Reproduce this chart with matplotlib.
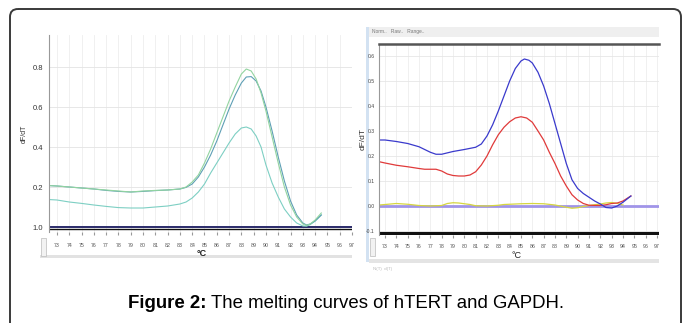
import matplotlib
matplotlib.use("Agg")
import matplotlib.pyplot as plt
from matplotlib.patches import Rectangle, FancyBboxPatch

plt.rcParams['font.family'] = ['Liberation Sans', 'DejaVu Sans']

# ---- data ----
# left panel (hTERT), three replicate melting curves
left_t = [72.4, 73, 74, 75, 76, 77, 78, 79, 80, 81, 82, 83, 83.5, 84, 84.5, 85, 85.5, 86,
          86.5, 87, 87.5, 88, 88.4, 88.8, 89.2, 89.6, 90, 90.5, 91, 91.5, 92, 92.5, 93,
          93.3, 93.6, 94, 94.5]
left_a = [0.207, 0.205, 0.20, 0.195, 0.19, 0.185, 0.18, 0.175, 0.18, 0.183, 0.185, 0.19,
          0.20, 0.225, 0.26, 0.32, 0.39, 0.47, 0.55, 0.63, 0.70, 0.765, 0.79, 0.78, 0.74,
          0.67, 0.58, 0.45, 0.32, 0.20, 0.11, 0.05, 0.015, 0.008, 0.015, 0.035, 0.07]
left_b = [0.207, 0.205, 0.20, 0.195, 0.19, 0.183, 0.178, 0.175, 0.178, 0.182, 0.185, 0.19,
          0.198, 0.215, 0.25, 0.30, 0.36, 0.43, 0.51, 0.59, 0.66, 0.72, 0.75, 0.752, 0.73,
          0.68, 0.60, 0.48, 0.35, 0.23, 0.13, 0.06, 0.02, 0.01, 0.015, 0.03, 0.06]
left_c = [0.137, 0.135, 0.125, 0.118, 0.11, 0.103, 0.097, 0.095, 0.095, 0.10, 0.105, 0.115,
          0.125, 0.145, 0.175, 0.215, 0.27, 0.32, 0.37, 0.42, 0.465, 0.495, 0.50, 0.49,
          0.455, 0.40, 0.31, 0.22, 0.15, 0.09, 0.05, 0.02, 0.005, 0.004, 0.012, 0.03, 0.06]

# right panel (GAPDH / controls)
blue_t = [72.5, 73, 74, 75, 76, 77, 77.5, 78, 79, 80, 81, 81.5, 82, 82.5, 83, 83.5, 84, 84.5,
          85, 85.3, 85.7, 86, 86.5, 87, 87.5, 88, 88.5, 89, 89.5, 90, 90.5, 91, 91.5, 92,
          92.5, 93, 93.5, 94, 94.7]
blue_v = [0.264, 0.264, 0.258, 0.25, 0.237, 0.215, 0.207, 0.207, 0.218, 0.226, 0.235, 0.248,
          0.28, 0.325, 0.38, 0.44, 0.50, 0.55, 0.58, 0.588, 0.583, 0.572, 0.535, 0.48, 0.41,
          0.33, 0.25, 0.17, 0.105, 0.07, 0.05, 0.035, 0.02, 0.008, -0.006, -0.008, 0.0,
          0.015, 0.04]
red_t = [72.5, 73, 74, 75, 76, 76.5, 77.5, 78, 78.5, 79, 79.5, 80, 80.5, 81, 81.5, 82, 82.5,
         83, 83.5, 84, 84.5, 85, 85.5, 86, 86.5, 87, 87.5, 88, 88.5, 89, 89.5, 90, 90.5, 91,
         92, 92.5, 93, 93.5, 94, 94.7]
red_v = [0.177, 0.172, 0.163, 0.157, 0.15, 0.147, 0.147, 0.14, 0.128, 0.122, 0.12, 0.12,
         0.124, 0.137, 0.164, 0.20, 0.245, 0.285, 0.315, 0.337, 0.352, 0.357, 0.352, 0.335,
         0.30, 0.264, 0.215, 0.17, 0.12, 0.08, 0.045, 0.024, 0.01, 0.003, 0.002, 0.005, 0.01,
         0.012, 0.02, 0.04]
yel_t = [72.5, 73.5, 74, 75, 76, 77, 78, 78.5, 79, 79.5, 80.5, 81, 82, 83, 83.5, 84, 85, 86,
         87, 88, 89, 89.5, 90, 90.5, 91, 92, 92.5, 93, 93.5, 94]
yel_v = [0.004, 0.008, 0.01, 0.007, 0.002, 0.0, 0.002, 0.01, 0.013, 0.012, 0.006, 0.001, 0.0,
         0.003, 0.006, 0.007, 0.009, 0.01, 0.009, 0.004, -0.005, -0.009, -0.007, -0.002,
         0.002, 0.008, 0.012, 0.014, 0.01, 0.004]

temp_ticks = list(range(73, 98))
left_yticks = [0.0, 0.2, 0.4, 0.6, 0.8]
left_ylabels = ['1.0', '0.2', '0.4', '0.6', '0.8']
right_yticks = [-0.1, 0.0, 0.1, 0.2, 0.3, 0.4, 0.5, 0.6]
right_ylabels = ['-0.1', '0.0', '0.1', '0.2', '0.3', '0.4', '0.5', '0.6']

W, H = 683, 323


def box(x0, y0, x1, y1):
    # pixel box (top-left origin) -> figure fraction
    return [x0 / W, 1 - y1 / H, (x1 - x0) / W, (y1 - y0) / H]


fig = plt.figure(figsize=(W / 100, H / 100), dpi=100)

# background layer in pixel coordinates
bg = fig.add_axes([0, 0, 1, 1])
bg.set_xlim(0, W)
bg.set_ylim(H, 0)
bg.axis('off')
bg.add_patch(FancyBboxPatch((10, 9), 671, 330, boxstyle="round,pad=0,rounding_size=8",
                            fill=False, ec='#3a3a3a', lw=1.4))
# left panel decorations
bg.add_patch(Rectangle((40, 255), 312, 3, color='#e2e2e2', lw=0))
bg.add_patch(Rectangle((41, 238), 5, 18, fc='#f2f2f2', ec='#bbbbbb', lw=0.5))
bg.text(202, 253.5, '°C', fontsize=6.5, ha='center', va='center', weight='bold', color='#222')
# right panel decorations
bg.add_patch(Rectangle((366, 27), 2.5, 235, color='#d3e2f2', lw=0))
bg.add_patch(Rectangle((369, 27), 290, 10, color='#efefef', lw=0))
bg.text(372, 32, 'Norm..   Raw..   Range..', fontsize=3.5, color='#777', va='center')
bg.add_patch(Rectangle((369, 259), 290, 4, color='#e4e4e4', lw=0))
bg.text(373, 269, 'N(T)  d(T)', fontsize=3.2, color='#bbbbbb', va='center')
bg.add_patch(Rectangle((370, 238), 5, 18, fc='#f2f2f2', ec='#bbbbbb', lw=0.5))
bg.text(517, 255, '°C', fontsize=6.5, ha='center', va='center', color='#222')

# ---- left chart ----
ax1 = fig.add_axes(box(49, 35, 352, 232))
ax1.set_xlim(72.35, 97.0)
ax1.set_ylim(-0.025, 0.96)
for t in temp_ticks:
    ax1.axvline(t, color='#eeeeee', lw=0.6, zorder=0)
for v in left_yticks[1:]:
    ax1.axhline(v, color='#e3e3e3', lw=0.6, zorder=0)
ax1.axhline(0.0, color='#2b2b6a', lw=1.4)
ax1.axhline(-0.008, color='#111111', lw=1.0)
ax1.plot(left_t, left_c, color='#7dcfc3', lw=0.8)
ax1.plot(left_t, left_b, color='#5e9fb5', lw=0.8)
ax1.plot(left_t, left_a, color='#92d4a0', lw=0.8)
ax1.set_xticks(temp_ticks)
ax1.set_xticklabels([str(t) for t in temp_ticks], fontsize=3.8, color='#555')
ax1.tick_params(axis='x', length=2, pad=6, color='#999')
ax1.set_yticks(left_yticks)
ax1.set_yticklabels(left_ylabels, fontsize=5.5, color='#333')
ax1.tick_params(axis='y', length=0, pad=4)
ax1.set_ylabel('dF/dT', fontsize=5, color='#333', labelpad=4)
for s in ['top', 'right', 'bottom']:
    ax1.spines[s].set_visible(False)
ax1.spines['left'].set_color('#999999')
ax1.spines['left'].set_linewidth(0.8)

# ---- right chart ----
ax2 = fig.add_axes(box(379, 44, 659, 235))
ax2.set_xlim(72.47, 97.18)
ax2.set_ylim(-0.116, 0.648)
for t in temp_ticks:
    ax2.axvline(t, color='#eeeeee', lw=0.6, zorder=0)
for v in right_yticks:
    ax2.axhline(v, color='#e6e6e6', lw=0.6, zorder=0)
ax2.axhline(-0.108, color='#111111', lw=2.2)
ax2.plot([72.47, 97.18], [0.0, 0.0], color='#a094e8', lw=2.0)
ax2.plot(yel_t, yel_v, color='#d6d640', lw=0.9)
ax2.plot(red_t, red_v, color='#e03a3a', lw=0.9)
ax2.plot(blue_t, blue_v, color='#3a3acc', lw=0.9)
ax2.set_xticks(temp_ticks)
ax2.set_xticklabels([str(t) for t in temp_ticks], fontsize=3.8, color='#555')
ax2.tick_params(axis='x', length=2, pad=4.5, color='#999')
ax2.set_yticks(right_yticks)
ax2.set_yticklabels(right_ylabels, fontsize=3.6, color='#444')
ax2.tick_params(axis='y', length=0, pad=3)
ax2.set_ylabel('dF/dT', fontsize=6, color='#333', labelpad=0)
ax2.spines['right'].set_visible(False)
ax2.spines['bottom'].set_visible(False)
ax2.spines['top'].set_color('#555555')
ax2.spines['top'].set_linewidth(1.8)
ax2.spines['left'].set_color('#999999')
ax2.spines['left'].set_linewidth(0.8)

# ---- caption ----
cap_y = 1 - 303 / H
t1 = fig.text(128 / W, cap_y, 'Figure 2:', fontsize=13.4, weight='bold', va='center')
fig.canvas.draw()
bb = t1.get_window_extent(renderer=fig.canvas.get_renderer())
fig.text(bb.x1 / W + 0.006, cap_y, 'The melting curves of hTERT and GAPDH.', fontsize=13.4,
         va='center')

fig.savefig('out.png', dpi=100)
